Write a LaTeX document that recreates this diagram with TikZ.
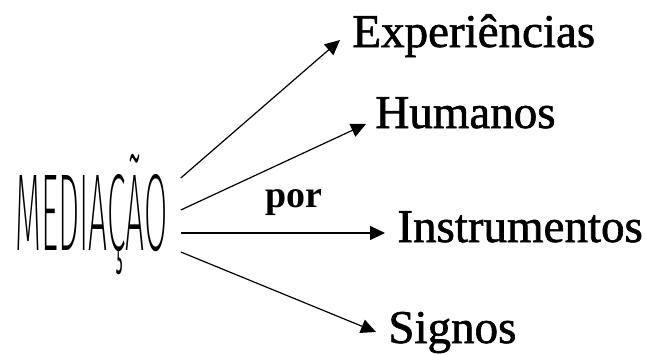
\documentclass[tikz,border=0pt]{standalone}
\usepackage{fontspec}
\setmainfont{Liberation Serif}
\newfontfamily\lblfont{Liberation Serif}[FakeBold=1.3]
\newfontfamily\condfont{Fira Sans ExtraLight}
\usetikzlibrary{arrows.meta,calc}
\tikzset{
  lbl/.style  ={anchor=base west, inner sep=0pt, font=\lblfont\fontsize{23.5}{28}\selectfont},
  conn/.style ={-{Triangle[length=7.5pt,width=7pt]}, line width=0.6pt},
}
\newsavebox\medbox
\newlength\medw
\newlength\medh

\begin{document}
% the tall narrow heading: fit it to 76pt wide, 37.5pt cap height
\sbox\medbox{\condfont\fontsize{20}{24}\selectfont MEDIAÇÃO}
\setlength\medw{\wd\medbox}
\settoheight\medh{\condfont\fontsize{20}{24}\selectfont M}
\pgfmathsetmacro\medsx{76pt/\medw}
\pgfmathsetmacro\medsy{37.5pt/\medh}
\begin{tikzpicture}[x=0.5pt, y=-0.5pt]
  \useasboundingbox (0,0) rectangle (646,353);

  \node[anchor=base west, inner sep=0pt] (med) at (15,250)
        {\scalebox{\medsx}[\medsy]{\usebox\medbox}};

  \node[lbl] (exp) at (352,47)  {Experiências};
  \node[lbl] (hum) at (375,128) {Humanos};
  \node[lbl] (ins) at (397,242) {Instrumentos};
  \node[lbl] (sig) at (388,343) {Signos};
  \node[anchor=base west, inner sep=0pt, font=\bfseries\fontsize{19}{22}\selectfont]
        (por) at (265,207) {por};

  % fan of arrows from the heading
  \draw[conn] ($(med.base east)+(13,-72)$) -- ($(exp.base west)+(-12,-7)$);
  \draw[conn] ($(med.base east)+(13,-40)$) -- ($(hum.base west)+(-9,-4)$);
  \draw[conn] ($(med.base east)+(13,-17)$) -- ($(ins.base west)+(-12,-9)$);
  \draw[conn] ($(med.base east)+(13,2)$)   -- ($(sig.base west)+(-12,-11)$);
\end{tikzpicture}
\end{document}
